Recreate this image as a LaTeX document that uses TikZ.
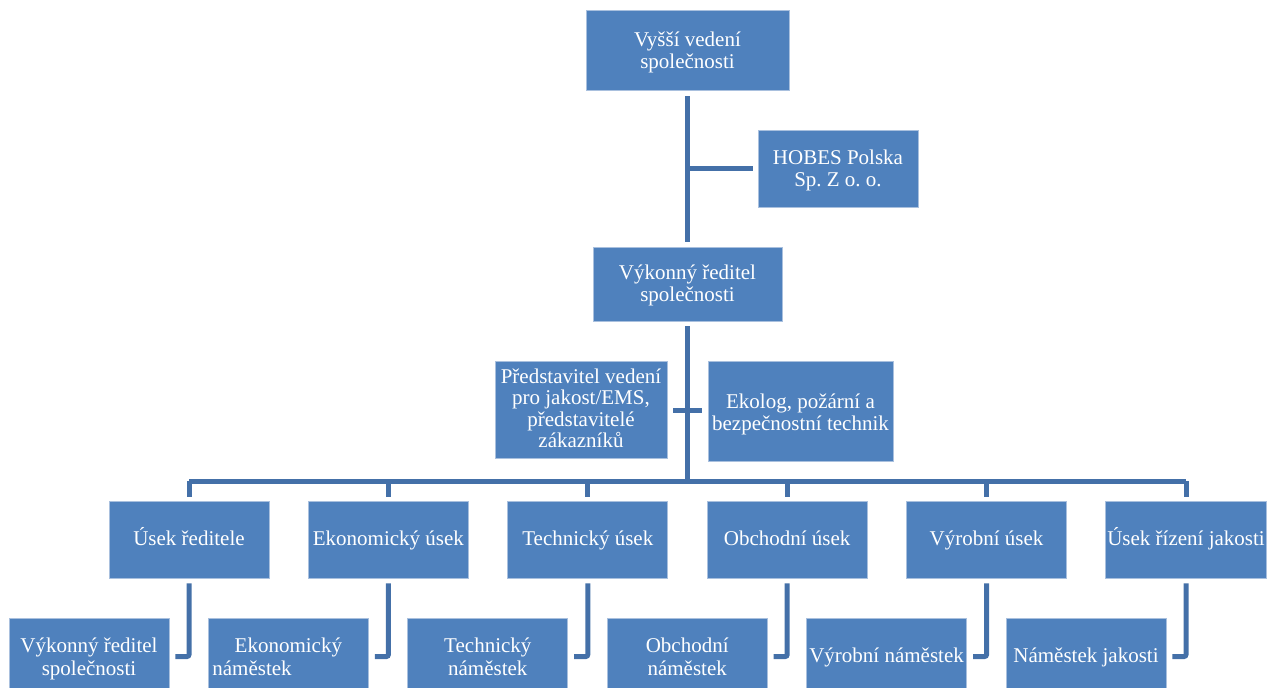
\documentclass[tikz,border=0pt]{standalone}
\usepackage{fontspec}
\setmainfont{Liberation Serif}
\frenchspacing
\def\curH{21pt}
\newcommand\fs{\rule{0pt}{\curH}}
\newcommand\ls{\rule[-7pt]{0pt}{0pt}}
\definecolor{boxfill}{HTML}{4F81BD}
\definecolor{boxline}{HTML}{A9C0DE}
\definecolor{connc}{HTML}{4470A8}
\begin{document}
\begin{tikzpicture}[x=1pt,y=-1pt,
  strutH/.code={\def\curH{#1}},
  orgbox/.style={draw=boxline, line width=0.8pt, fill=boxfill, text=white,
    font=\fontsize{21}{22}\selectfont, align=center, inner sep=2pt},
  lvbox/.style={orgbox, minimum width=160pt, minimum height=77pt},
  conn/.style={draw=connc, line width=5pt},
  elbow/.style={conn, rounded corners=2pt}]
\useasboundingbox (0,0) rectangle (1278,688);
\clip (0,0) rectangle (1278,688);

\node[orgbox, minimum width=203pt, minimum height=80pt, strutH=21.3pt] (top) at (687.5,50) {\fs Vyšší vedení\\společnosti\ls};
\node[orgbox, minimum width=160pt, minimum height=77pt, strutH=21.6pt] (hobes) at (838,168.5) {\fs HOBES Polska\\Sp. Z o. o.\ls};
\node[orgbox, minimum width=189pt, minimum height=74pt, strutH=20.6pt] (exec) at (687.5,284) {\fs Výkonný ředitel\\společnosti\ls};
\node[orgbox, minimum width=172pt, minimum height=97pt, strutH=19pt, font=\fontsize{21}{21.5}\selectfont] (pred) at (581,409.5) {\fs Představitel vedení\\pro jakost/EMS,\\představitelé\\zákazníků\ls};
\node[orgbox, minimum width=185pt, minimum height=100pt, strutH=23.4pt, font=\fontsize{21}{21.7}\selectfont] (ekolog) at (800.5,411) {\fs Ekolog, požární a\\bezpečnostní technik\ls};

\begin{scope}[strutH=19.4pt]
\node[lvbox] (a2) at (189,539.5) {\fs Úsek ředitele\ls};
\node[lvbox] (b2) at (388.4,539.5) {\fs Ekonomický úsek\ls};
\node[lvbox] (c2) at (587.8,539.5) {\fs Technický úsek\ls};
\node[lvbox] (d2) at (787.2,539.5) {\fs Obchodní úsek\ls};
\node[lvbox] (e2) at (986.6,539.5) {\fs Výrobní úsek\ls};
\node[lvbox] (f2) at (1186,539.5) {\fs Úsek řízení jakosti\ls};
\end{scope}

\begin{scope}[strutH=21.4pt]
\node[lvbox, font=\fontsize{21}{22.7}\selectfont] (a3) at (89,656.5) {\fs Výkonný ředitel\\společnosti\ls};
\node[lvbox, align=left, font=\fontsize{21}{22.7}\selectfont] (b3) at (288.4,656.5) {\fs\makebox[152pt]{Ekonomický}\\náměstek\ls};
\node[lvbox, font=\fontsize{21}{22.7}\selectfont] (c3) at (487.8,656.5) {\fs Technický\\náměstek\ls};
\node[lvbox, font=\fontsize{21}{22.7}\selectfont] (d3) at (687.2,656.5) {\fs Obchodní\\náměstek\ls};
\end{scope}
\node[lvbox, strutH=19.4pt] (e3) at (886.6,656.5) {\fs Výrobní náměstek\ls};
\node[lvbox, strutH=19.4pt] (f3) at (1086,656.5) {\fs Náměstek jakosti\ls};

\coordinate (bus) at (687.5,481);

\draw[conn, shorten <=6pt, shorten >=5pt] (top.south) -- (exec.north);
\draw[conn, shorten >=5pt] (top.south |- hobes.west) -- (hobes.west);
\draw[conn, shorten <=5pt] (exec.south) -- (bus);
\draw[conn, shorten <=6pt, shorten >=6pt] (pred.east |- 0,410) -- (ekolog.west |- 0,410);
\draw[conn] (a2 |- bus) -- (f2 |- bus);
\foreach \n in {a,b,c,d,e,f}{
  \draw[conn, shorten >=4pt] (\n2 |- bus) -- (\n2.north);
  \draw[elbow, shorten <=5pt, shorten >=6pt] (\n2.south) |- (\n3.east);
}
\end{tikzpicture}
\end{document}
